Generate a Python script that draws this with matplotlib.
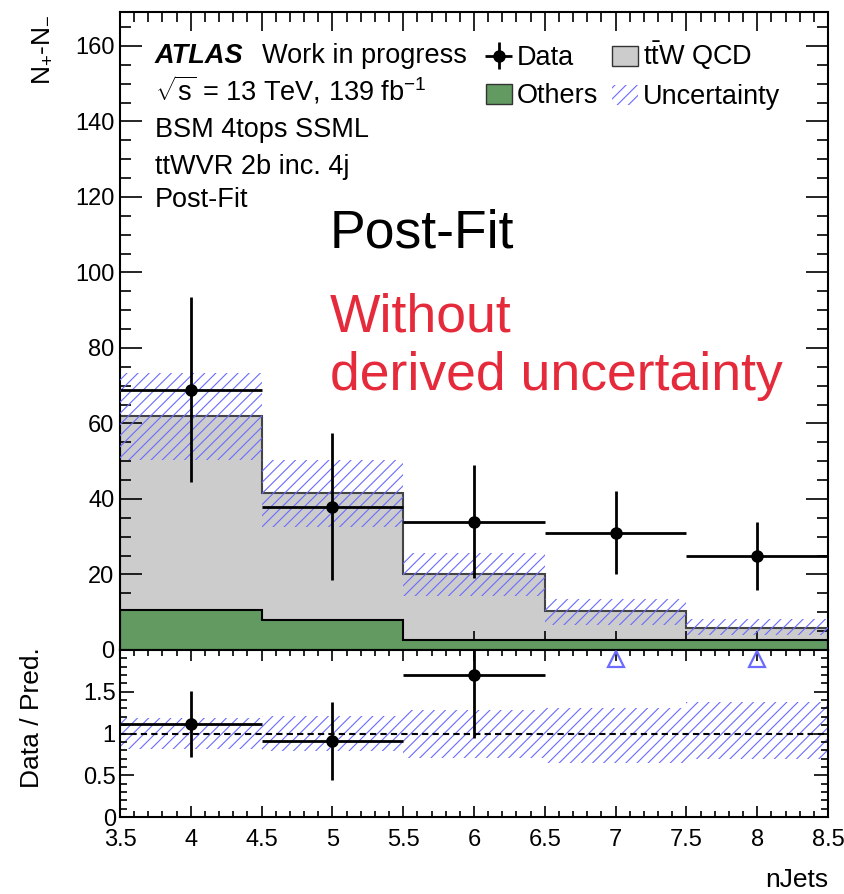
import matplotlib
matplotlib.use("Agg")
import matplotlib.pyplot as plt
import matplotlib.transforms as mtransforms
import numpy as np
from matplotlib.ticker import MultipleLocator, FixedLocator, NullFormatter
from matplotlib.patches import Patch

plt.rcParams['font.family'] = ['Liberation Sans', 'DejaVu Sans']
plt.rcParams['mathtext.fontset'] = 'custom'
plt.rcParams['mathtext.rm'] = 'Liberation Sans'
plt.rcParams['mathtext.it'] = 'Liberation Sans:italic'
plt.rcParams['mathtext.bf'] = 'Liberation Sans:bold'
plt.rcParams['hatch.linewidth'] = 0.8

# ---------------- data ----------------
bin_edges = [3.5, 4.5, 5.5, 6.5, 7.5, 8.5]
njets = [4, 5, 6, 7, 8]
others = [10.5, 7.9, 2.7, 2.7, 2.7]
ttw_qcd = [51.4, 33.7, 17.3, 7.6, 3.2]
unc_high = [73.4, 50.2, 25.7, 13.5, 8.1]
unc_low = [50.4, 32.7, 14.2, 6.7, 4.1]
data = [69.0, 38.0, 34.0, 31.0, 25.0]
data_err = [24.5, 19.5, 15.0, 11.0, 9.0]
x_ticklabels = ['3.5', '4', '4.5', '5', '5.5', '6', '6.5', '7', '7.5', '8', '8.5']

# colours
c_ttw = '#cccccc'
c_oth = '#629a62'
c_unc = '#6b6bff'
c_red = '#e52b3b'

W, H = 845, 894
fig = plt.figure(figsize=(W / 100, H / 100), dpi=100)

def fx(px):
    return px / W

def fy(py):
    return 1 - py / H

ax = fig.add_axes([fx(120), fy(650), fx(828) - fx(120), fy(12) - fy(650)])
axr = fig.add_axes([fx(120), fy(817), fx(828) - fx(120), fy(650) - fy(817)])

edges = np.array(bin_edges)
oth = np.array(others)
tot = oth + np.array(ttw_qcd)
uh = np.array(unc_high)
ul = np.array(unc_low)
d = np.array(data)
de = np.array(data_err)

# ---------------- main panel ----------------
ax.stairs(tot, edges, baseline=0, fill=True, color=c_ttw, zorder=1)
ax.stairs(tot, edges, baseline=0, color='#444444', lw=1.5, zorder=1.5)
ax.stairs(oth, edges, baseline=0, fill=True, color=c_oth, zorder=2)
ax.stairs(oth, edges, baseline=0, color='black', lw=1.5, zorder=2.5)
ax.fill_between(edges, np.append(ul, ul[-1]), np.append(uh, uh[-1]), step='post',
                facecolor='none', edgecolor=c_unc, hatch='///', lw=0, zorder=3)
ax.errorbar(njets, d, xerr=0.5, yerr=de, fmt='o', color='black', ms=8,
            elinewidth=2, capsize=0, zorder=5)

ax.set_xlim(3.5, 8.5)
ax.set_ylim(0, 169)
ax.xaxis.set_major_locator(MultipleLocator(0.5))
ax.xaxis.set_minor_locator(MultipleLocator(0.1))
ax.yaxis.set_major_locator(MultipleLocator(20))
ax.yaxis.set_minor_locator(MultipleLocator(5))
ax.xaxis.set_major_formatter(NullFormatter())
ax.tick_params(axis='both', which='both', direction='in', top=True, right=True,
               labelsize=17, width=1.2)
ax.tick_params(axis='x', which='major', length=14)
ax.tick_params(axis='x', which='minor', length=7)
ax.tick_params(axis='y', which='major', length=15.5, pad=4)
ax.tick_params(axis='y', which='minor', length=8)
for s in ax.spines.values():
    s.set_linewidth(1.5)

# text block
fs = 19.5
fig.text(fx(155), fy(63), 'ATLAS', fontsize=fs, fontweight='bold', fontstyle='italic', va='baseline')
fig.text(fx(262), fy(63), 'Work in progress', fontsize=fs, va='baseline')
fig.text(fx(155), fy(100), r'$\sqrt{\mathrm{s}}$ = 13 TeV, 139 fb$^{\mathrm{-1}}$', fontsize=fs, va='baseline')
fig.text(fx(155), fy(137), 'BSM 4tops SSML', fontsize=fs, va='baseline')
fig.text(fx(155), fy(174), 'ttWVR 2b inc. 4j', fontsize=fs, va='baseline')
fig.text(fx(155), fy(207), 'Post-Fit', fontsize=fs, va='baseline')

fig.text(fx(330), fy(247), 'Post-Fit', fontsize=38.5, va='baseline', color='black')
fig.text(fx(330), fy(332), 'Without', fontsize=38.5, va='baseline', color=c_red)
fig.text(fx(330), fy(390), 'derived uncertainty', fontsize=38.5, va='baseline', color=c_red)

# legend
h_data = ax.errorbar([], [], xerr=[], yerr=[], fmt='o', color='black', ms=8, elinewidth=2, capsize=0)
h_oth = Patch(facecolor=c_oth, edgecolor='#333333', lw=1)
h_ttw = Patch(facecolor=c_ttw, edgecolor='#333333', lw=1)
h_unc = Patch(facecolor='none', edgecolor=c_unc, hatch='///', lw=0)
leg = ax.legend([h_data, h_oth, h_ttw, h_unc],
                ['Data', 'Others', r'$\mathrm{t\bar{t}W}$ QCD', 'Uncertainty'],
                ncol=2, loc='upper left', bbox_to_anchor=(fx(486), fy(40)),
                bbox_transform=fig.transFigure, frameon=False, fontsize=fs,
                borderpad=0, borderaxespad=0, handlelength=0.95, handleheight=0.75,
                handletextpad=0.2, columnspacing=0.5, labelspacing=0.45)

fig.text(fx(42), fy(14), r'N$_{+}$-N$_{-}$', rotation=90, fontsize=19, ha='center', va='top')

# ---------------- ratio panel ----------------
ratio = d / tot
ratio_err = de / tot
r_lo = ul / tot
r_hi = uh / tot
axr.fill_between(edges, np.append(r_lo, r_lo[-1]), np.append(r_hi, r_hi[-1]), step='post',
                 facecolor='none', edgecolor=c_unc, hatch='///', lw=0, zorder=1)
axr.axhline(1.0, color='black', lw=1.5, ls=(0, (3, 2)), zorder=2)
rmax = 2.0
inr = ratio <= rmax
axr.errorbar(np.array(njets)[inr], ratio[inr], xerr=0.5, yerr=ratio_err[inr], fmt='o',
             color='black', ms=8, elinewidth=2, capsize=0, zorder=5)
trans = mtransforms.blended_transform_factory(axr.transData, axr.transAxes)
nx = np.array(njets)[~inr]
axr.plot(nx, np.full(len(nx), 0.945), ls='none', marker='^', ms=12, mfc='none',
         mec=c_unc, mew=1.6, transform=trans, clip_on=False, zorder=6)

axr.set_xlim(3.5, 8.5)
axr.set_ylim(0, rmax)
axr.set_xticks(sorted(bin_edges + njets))
axr.set_xticklabels(x_ticklabels)
axr.xaxis.set_minor_locator(MultipleLocator(0.1))
axr.yaxis.set_major_locator(FixedLocator([0, 0.5, 1.0, 1.5]))
axr.set_yticklabels(['0', '0.5', '1', '1.5'])
axr.yaxis.set_minor_locator(MultipleLocator(0.1))
axr.tick_params(axis='both', which='both', direction='in', top=True, right=True,
                labelsize=17, width=1.2)
axr.tick_params(axis='x', which='major', length=8, pad=9)
axr.tick_params(axis='x', which='minor', length=4)
axr.tick_params(axis='y', which='major', length=10, pad=3)
axr.tick_params(axis='y', which='minor', length=5)
for s in axr.spines.values():
    s.set_linewidth(1.5)

fig.text(fx(32), fy(647), 'Data / Pred.', rotation=90, fontsize=19, ha='center', va='top')
fig.text(fx(828), fy(887), 'nJets', fontsize=19, ha='right', va='baseline')

fig.savefig('out.png', dpi=100)
